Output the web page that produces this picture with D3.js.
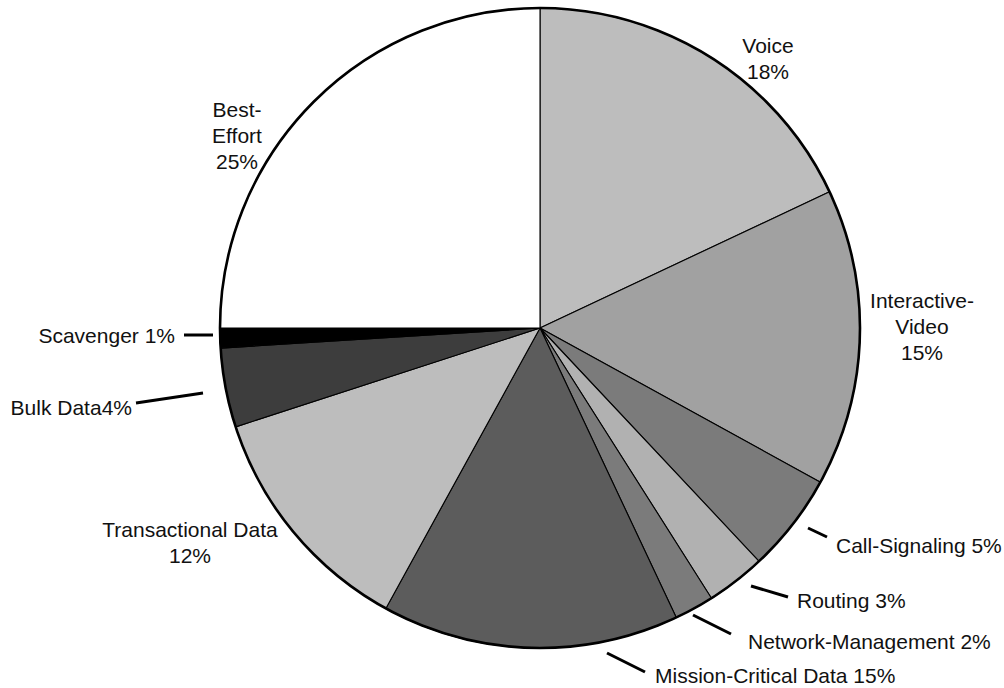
<!DOCTYPE html>
<html>
<head>
<meta charset="utf-8">
<script src="https://cdn.jsdelivr.net/npm/d3@7"></script>
<style>
  html, body { margin: 0; padding: 0; background: #fff; }
  svg { display: block; }
  .lbl { font-family: "Liberation Sans", Arial, Helvetica, sans-serif; font-size: 21px; fill: #111; }
</style>
</head>
<body>
<svg id="chart" width="1004" height="688"></svg>
<script>
(function () {
  "use strict";

  // slice data, clockwise from 12 o'clock
  const categories = [
    "Voice", "Interactive-Video", "Call-Signaling", "Routing", "Network-Management",
    "Mission-Critical Data", "Transactional Data", "Bulk Data", "Scavenger", "Best-Effort"
  ];
  const shares = [18, 15, 5, 3, 2, 15, 12, 4, 1, 25];
  const fills = ["#bdbdbd", "#a1a1a1", "#7b7b7b", "#b1b1b1", "#7b7b7b",
                 "#5c5c5c", "#bdbdbd", "#3d3d3d", "#000000", "#ffffff"];

  // label text lines for each slice
  const labelLines = [
    ["Voice", "18%"],
    ["Interactive-", "Video", "15%"],
    ["Call-Signaling 5%"],
    ["Routing 3%"],
    ["Network-Management 2%"],
    ["Mission-Critical Data 15%"],
    ["Transactional Data", "12%"],
    ["Bulk Data4%"],
    ["Scavenger 1%"],
    ["Best-", "Effort", "25%"]
  ];

  const cx = 540, cy = 328, radius = 320;
  const lineH = 26;

  // label placement: x, baseline y, anchor, leader line if any
  const layout = {
    "Voice":                 { x: 768, y: 53,  anchor: "middle" },
    "Interactive-Video":     { x: 922, y: 308, anchor: "middle" },
    "Call-Signaling":        { x: 836, y: 553, anchor: "start", lead: [[808, 528], [827, 537]] },
    "Routing":               { x: 797, y: 608, anchor: "start", lead: [[751, 586], [788, 597]] },
    "Network-Management":    { x: 748, y: 649, anchor: "start", lead: [[693, 615], [731, 634]] },
    "Mission-Critical Data": { x: 655, y: 683, anchor: "start", lead: [[607, 653], [645, 672]] },
    "Transactional Data":    { x: 190, y: 537, anchor: "middle" },
    "Bulk Data":             { x: 132, y: 415, anchor: "end", lead: [[136, 403], [203, 393]] },
    "Scavenger":             { x: 175, y: 343, anchor: "end", lead: [[184, 335], [213, 335]] },
    "Best-Effort":           { x: 237, y: 117, anchor: "middle" }
  };

  const data = categories.map((c, i) => ({ name: c, value: shares[i], fill: fills[i], lines: labelLines[i] }));

  const svg = d3.select("#chart");

  const pie = d3.pie().sort(null).value((d) => d.value).startAngle(0).endAngle(2 * Math.PI);
  const arc = d3.arc().innerRadius(0).outerRadius(radius);

  const g = svg.append("g").attr("transform", `translate(${cx},${cy})`);

  g.selectAll("path.slice")
    .data(pie(data))
    .enter().append("path")
    .attr("class", "slice")
    .attr("d", arc)
    .attr("fill", (d) => d.data.fill)
    .attr("stroke", "#000")
    .attr("stroke-width", 1.1)
    .attr("stroke-linejoin", "round");

  // heavier outer rim
  g.append("circle")
    .attr("r", radius)
    .attr("fill", "none")
    .attr("stroke", "#000")
    .attr("stroke-width", 2.6);

  // leader lines
  const leaders = data.filter((d) => layout[d.name].lead);
  svg.selectAll("line.leader")
    .data(leaders)
    .enter().append("line")
    .attr("class", "leader")
    .attr("x1", (d) => layout[d.name].lead[0][0])
    .attr("y1", (d) => layout[d.name].lead[0][1])
    .attr("x2", (d) => layout[d.name].lead[1][0])
    .attr("y2", (d) => layout[d.name].lead[1][1])
    .attr("stroke", "#000")
    .attr("stroke-width", 3);

  // labels
  const labels = svg.selectAll("text.lbl")
    .data(data)
    .enter().append("text")
    .attr("class", "lbl")
    .attr("x", (d) => layout[d.name].x)
    .attr("y", (d) => layout[d.name].y)
    .attr("text-anchor", (d) => layout[d.name].anchor);

  labels.each(function (d) {
    const t = d3.select(this);
    const L = layout[d.name];
    d.lines.forEach((line, i) => {
      t.append("tspan")
        .attr("x", L.x)
        .attr("y", L.y + i * lineH)
        .text(line);
    });
  });
})();
</script>
</body>
</html>
